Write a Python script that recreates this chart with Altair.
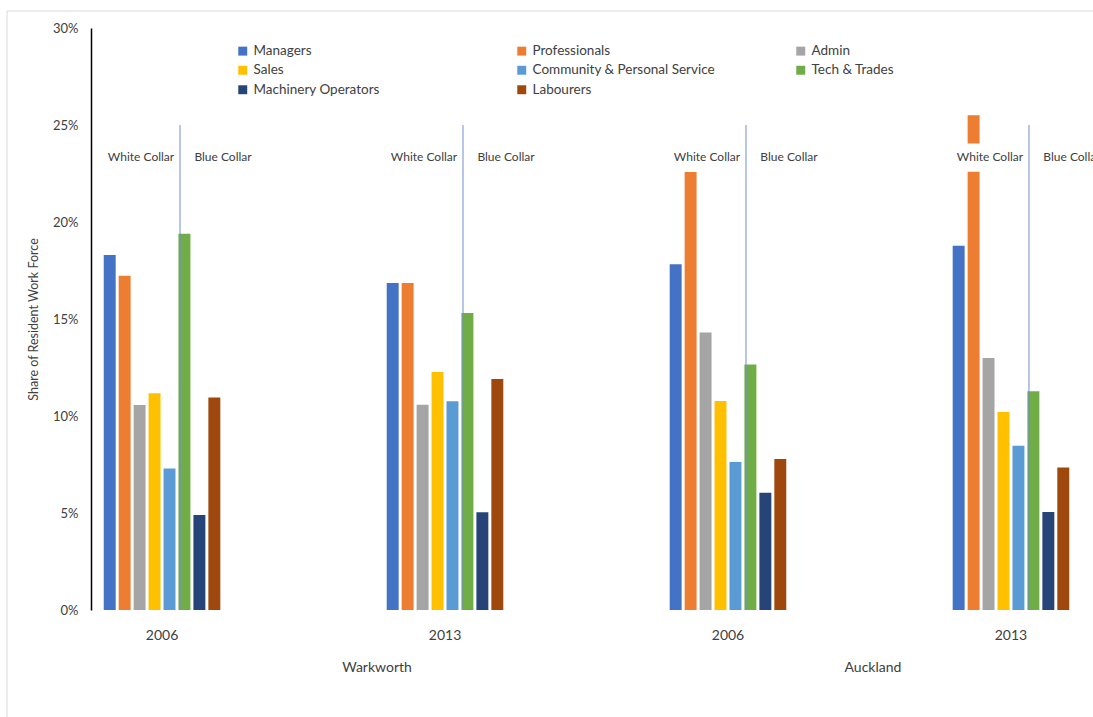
import altair as alt
import pandas as pd

groups = ["Warkworth 2006", "Warkworth 2013", "Auckland 2006", "Auckland 2013"]
occupations = ["Managers", "Professionals", "Admin", "Sales",
               "Community & Personal Service", "Tech & Trades",
               "Machinery Operators", "Labourers"]
colors = ["#4472C4", "#ED7D31", "#A5A5A5", "#FFC000",
          "#5B9BD5", "#70AD47", "#264478", "#9E480E"]

warkworth_2006 = [18.30, 17.23, 10.57, 11.17, 7.30, 19.40, 4.90, 10.96]
warkworth_2013 = [16.86, 16.86, 10.58, 12.27, 10.76, 15.31, 5.04, 11.91]
auckland_2006 = [17.82, 22.58, 14.31, 10.77, 7.63, 12.65, 6.05, 7.78]
auckland_2013 = [18.78, 25.50, 12.99, 10.21, 8.47, 11.27, 5.05, 7.34]

series = [warkworth_2006, warkworth_2013, auckland_2006, auckland_2013]
rows = []
for g, vals in zip(groups, series):
    for occ, v in zip(occupations, vals):
        rows.append({"group": g, "occupation": occ, "share": v / 100})
df = pd.DataFrame(rows)
gdf = pd.DataFrame({"group": groups})

FONT = "Lato"
TXT = "#404040"

x_enc = alt.X("group:N", sort=groups,
              scale=alt.Scale(paddingInner=0.588, paddingOuter=0.045),
              axis=alt.Axis(title=None, labelAngle=0, domain=False, ticks=False,
                            labelExpr="split(datum.label, ' ')[1]",
                            labelFontSize=14, labelColor=TXT, labelPadding=18,
                            labelFont=FONT))
y_scale = alt.Scale(domain=[0, 0.30], nice=False)

bars = alt.Chart(df).mark_bar().encode(
    x=x_enc,
    xOffset=alt.XOffset("occupation:N", sort=occupations,
                        scale=alt.Scale(paddingInner=0.2, paddingOuter=0)),
    y=alt.Y("share:Q", scale=y_scale,
            axis=alt.Axis(title="Share of Resident Work Force", format=".0%",
                          values=[0, 0.05, 0.10, 0.15, 0.20, 0.25, 0.30],
                          grid=False, ticks=False, domainColor="#000000",
                          domainWidth=1.5, labelFontSize=13, labelColor=TXT,
                          labelPadding=13, labelFont=FONT, titleFont=FONT,
                          titleFontSize=12.5, titleFontWeight="normal",
                          titleColor=TXT, titlePadding=12)),
    color=alt.Color("occupation:N", sort=occupations,
                    scale=alt.Scale(domain=occupations, range=colors),
                    legend=alt.Legend(title=None, orient="none", legendX=145,
                                      legendY=16, columns=3, direction="horizontal",
                                      gridAlign="all", columnPadding=79, rowPadding=4.5,
                                      symbolType="square", symbolSize=80,
                                      symbolStrokeWidth=0, labelFontSize=13.5,
                                      labelColor=TXT, labelFont=FONT,
                                      labelOffset=4, labelLimit=400)),
)

white_box = alt.Chart(gdf).mark_bar(color="white", width=70, xOffset=-21).encode(
    x=alt.X("group:N", sort=groups),
    y=alt.datum(0.2405),
    y2=alt.datum(0.2259),
)

wc_text = alt.Chart(gdf).mark_text(text="White Collar", dx=-21, fontSize=12,
                                   font=FONT, color=TXT, baseline="middle").encode(
    x=alt.X("group:N", sort=groups),
    y=alt.datum(0.2335),
)
bc_text = alt.Chart(gdf).mark_text(text="Blue Collar", dx=61, fontSize=12,
                                   font=FONT, color=TXT, baseline="middle").encode(
    x=alt.X("group:N", sort=groups),
    y=alt.datum(0.2335),
)

dividers = alt.Chart(gdf).mark_rule(color="#6F8FD0", strokeWidth=1, xOffset=18).encode(
    x=alt.X("group:N", sort=groups),
    y=alt.datum(0.25),
    y2=alt.datum(0.0),
)

region_w = alt.Chart(pd.DataFrame({"group": ["Warkworth 2013"], "label": ["Warkworth"]})).mark_text(
    dx=-68, fontSize=14, font=FONT, color=TXT, baseline="middle").encode(
    x=alt.X("group:N", sort=groups), y=alt.value(640), text="label:N")
region_a = alt.Chart(pd.DataFrame({"group": ["Auckland 2013"], "label": ["Auckland"]})).mark_text(
    dx=-138, fontSize=14, font=FONT, color=TXT, baseline="middle").encode(
    x=alt.X("group:N", sort=groups), y=alt.value(640), text="label:N")

frame = alt.Chart(gdf.head(1)).mark_rect(fill=None, stroke="#D9D9D9", strokeWidth=1).encode(
    x=alt.value(-84), x2=alt.value(1100), y=alt.value(-17), y2=alt.value(800))

chart = alt.layer(frame, bars, white_box, wc_text, bc_text, dividers, region_w, region_a).properties(
    width=991, height=582,
    padding={"left": 91, "top": 28, "right": 11, "bottom": 107},
    autosize=alt.AutoSizeParams(type="none"),
    background="white",
).configure_view(stroke=None)

chart.save("out.html", embed_options={"renderer": "svg", "actions": False})
